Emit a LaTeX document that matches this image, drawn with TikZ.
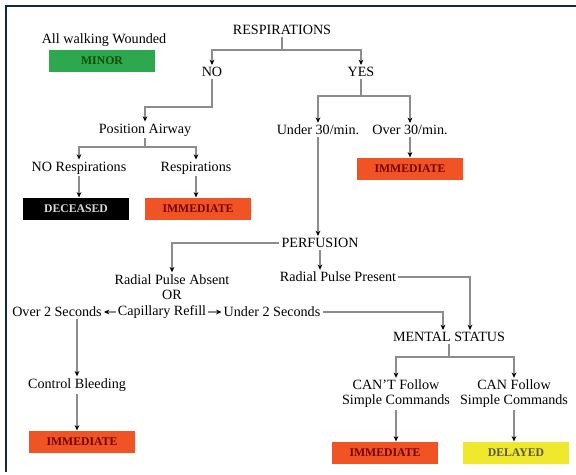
\documentclass[tikz,border=0pt]{standalone}
\usepackage{fontspec}
\setmainfont{Liberation Serif}
\usepackage{tikz}
\usetikzlibrary{arrows.meta,calc,positioning}
\definecolor{minorgreen}{RGB}{46,168,78}
\definecolor{immorange}{RGB}{240,84,36}
\definecolor{delayyellow}{RGB}{240,232,44}
\definecolor{framenavy}{RGB}{24,40,56}
\tikzset{
	triage chart/.style={
		x=0.75pt, y=-0.75pt,
		txt/.style={inner sep=1.5pt, font=\fontsize{10.6}{11.25}\selectfont, align=center},
		wire/.style={draw=black!45, line width=1pt},
		ar/.style={wire, -{Stealth[length=4pt,width=3.6pt,color=black]}},
		},
	tag/.style 2 args={fill=#1, text=#2, minimum width=79pt, minimum height=17pt,
		inner sep=0pt, font=\fontsize{8.8}{10}\selectfont\bfseries}
}

\begin{document}
\begin{tikzpicture}[triage chart]
   \useasboundingbox[fill=white] (0,0) rectangle (576,475);
   \draw[framenavy, line width=2pt] (6,472) -- (6,6) -- (576,6);
   % first step
   \node[txt] (resp) at (282,30) {RESPIRATIONS};
   \node[txt] (walk) at (104,40) {All walking Wounded};
   \node[tag={minorgreen}{green!30!black}] (minor) at (102,61) {MINOR};
   \node[txt] (no)  at (212,72) {NO};
   \node[txt] (yes) at (361,72) {YES};
   \coordinate (jr) at (282,50);
   \draw[wire] (resp) -- (jr);
   \draw[ar] (jr) -| (no);
   \draw[ar] (jr) -| (yes);
   % no breathing
   \node[txt] (airway) at (145,130) {Position Airway};
   \node[txt] (norsp) at (79,168) {NO Respirations};
   \node[txt] (rsp) at (196,168) {Respirations};
   \node[tag={black}{white!85!black}] (dead) at (76,209) {DECEASED};
   \node[tag={immorange}{red!45!black}] (imm1) at (198,209) {IMMEDIATE};
   \coordinate (jn) at (212,107);
   \coordinate (jp) at (145,147);
   \draw[ar] (no) -- (jn) -| (airway);
   \draw[wire] (airway) -- (jp);
   \draw[ar] (jp) -| (norsp);
   \draw[ar] (jp) -| (rsp);
   \draw[ar] (norsp) -- (norsp |- dead.north);
   \draw[ar] (rsp) -- (rsp |- imm1.north);
   % breathing
   \node[txt] (under) at (318,130) {Under 30/min.};
   \node[txt] (over) at (410,130) {Over 30/min.};
   \node[tag={immorange}{red!45!black}] (imm2) at (410,169) {IMMEDIATE};
   \coordinate (jy) at (361,96);
   \draw[wire] (yes) -- (jy);
   \draw[ar] (jy) -| (under);
   \draw[ar] (jy) -| (over);
   \draw[ar] (over) -- (over |- imm2.north);
   % perfusion
   \node[txt] (perf) at (320,243) {PERFUSION};
   \node[txt] (absent) at (172,287) {Radial Pulse Absent\\OR};
   \node[txt] (present) at (338,277) {Radial Pulse Present};
   \node[txt] (cap) at (162,312) {Capillary Refill};
   \node[txt] (over2) at (57,312) {Over 2 Seconds};
   \node[txt] (under2) at (272,312) {Under 2 Seconds};
   \draw[ar] (under) -- (under |- perf.north);
   \draw[ar] (perf.west) -| (absent);
   \draw[ar] (perf) -- (perf |- present.north);
   \draw[ar] (cap) -- (over2);
   \draw[ar] (cap) -- (under2);
   % bleeding
   \node[txt] (bleed) at (77,385) {Control Bleeding};
   \node[tag={immorange}{red!45!black}] (imm3) at (82,442) {IMMEDIATE};
   \draw[ar] (bleed |- over2.south) -- (bleed);
   \draw[ar] (bleed) -- (bleed |- imm3.north);
   % mental status
   \node[txt] (mental) at (449,337) {MENTAL STATUS};
   \node[txt] (cant) at (396,394) {CAN'T Follow\\Simple Commands};
   \node[txt] (can) at (514,394) {CAN Follow\\Simple Commands};
   \node[tag={immorange}{red!45!black}] (imm4) at (385,453) {IMMEDIATE};
   \node[tag={delayyellow}{yellow!25!black}] (delay) at (516,453) {DELAYED};
   \draw[ar] (present) -| ([xshift=15.75pt]mental.north);
   \draw[ar] (under2) -| ([xshift=-4.5pt]mental.north);
   \coordinate (jm) at (449,357);
   \draw[wire] (mental) -- (jm);
   \draw[ar] (jm) -| (cant);
   \draw[ar] (jm) -| (can);
   \draw[ar] (cant) -- (cant |- imm4.north);
   \draw[ar] (can) -- (can |- delay.north);
\end{tikzpicture}
\end{document}
